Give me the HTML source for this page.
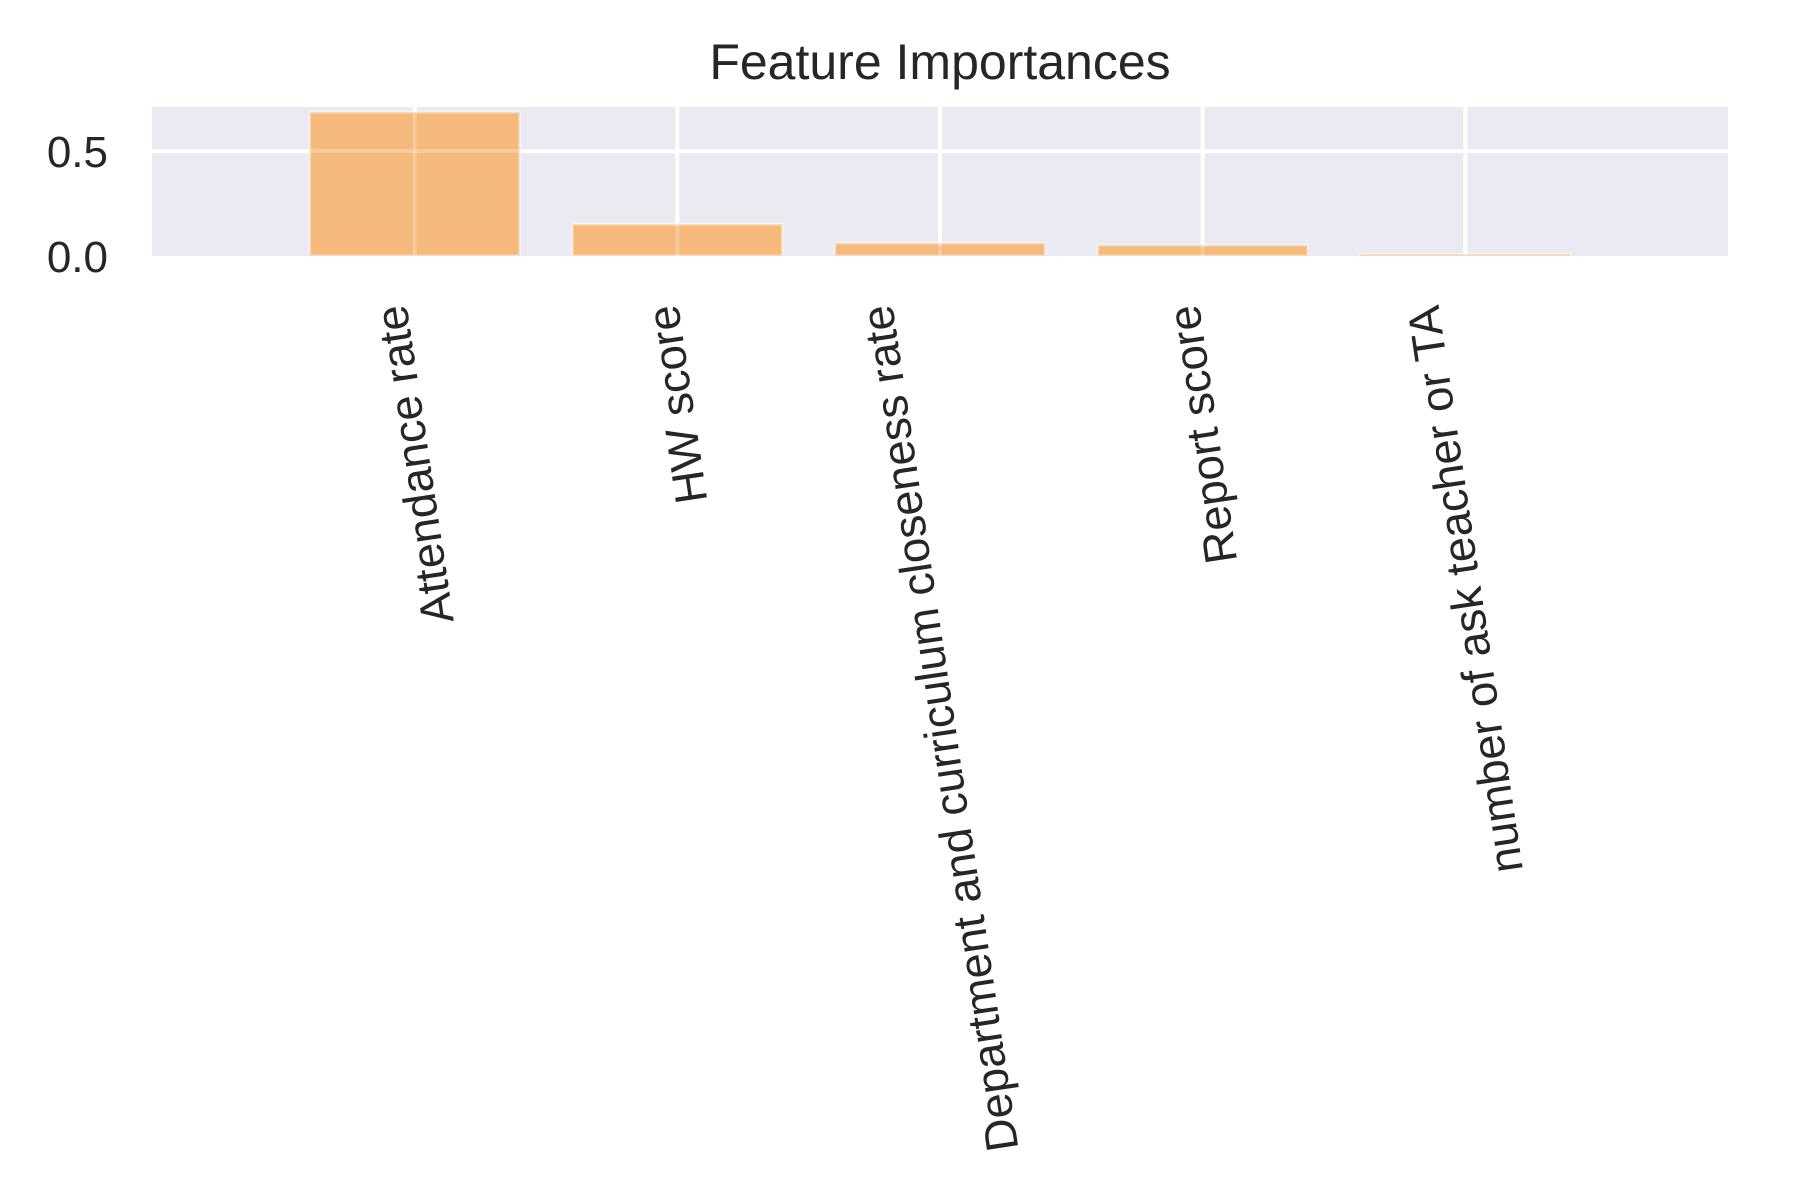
<!DOCTYPE html>
<html><head><meta charset="utf-8"><style>
html,body{margin:0;padding:0;background:#fff;}
svg{display:block;font-family:"Liberation Sans",Arial,sans-serif;}
</style></head><body>
<svg id="chart" width="1800" height="1200" viewBox="0 0 1800 1200">
<text x="940" y="79" font-size="50" fill="#262626" text-anchor="middle">Feature Importances</text>
<rect x="152" y="107" width="1576" height="149" fill="#eaeaf2"/>
<g id="grid"></g>
<g id="bars"></g>
<g id="gridover"></g>
<g id="yticks"></g>
<g id="xticks"></g>
</svg>
<script>
const categories = ["Attendance rate","HW score","Department and curriculum closeness rate","Report score","number of ask teacher or TA"];
const importances = [0.686, 0.152, 0.062, 0.052, 0.008];
const yTickValues = [0.0, 0.5];
const yTickLabels = ["0.0","0.5"];

const NS="http://www.w3.org/2000/svg";
const L=152,R=1728,T=107,B=256;
const xMin=-1,xMax=5,yMin=0,yMax=0.71;
function xs(v){return L+(v-xMin)/(xMax-xMin)*(R-L);}
function ys(v){return B-(v-yMin)/(yMax-yMin)*(B-T);}
function mk(tag,attrs,parent){const e=document.createElementNS(NS,tag);for(const k in attrs)e.setAttribute(k,attrs[k]);parent.appendChild(e);return e;}

const grid=document.getElementById('grid'),bars=document.getElementById('bars'),gover=document.getElementById('gridover');
const yt=document.getElementById('yticks'),xt=document.getElementById('xticks');

yTickValues.forEach((v,i)=>{
  if(v>yMin){
    const g=mk('line',{x1:L,x2:R,y1:ys(v),y2:ys(v),stroke:'#fff','stroke-width':4},grid);
    
    
    const o=mk('line',{x1:L,x2:R,y1:ys(v),y2:ys(v),stroke:'#fff','stroke-width':4,opacity:0.25},gover);
    
    
  }
  const t=mk('text',{x:108,y:ys(v)+16,'font-size':44,fill:'#262626','text-anchor':'end'},yt);
  t.textContent=yTickLabels[i];
  
  
});
categories.forEach((c,i)=>{
  const x=xs(i);
  const g=mk('line',{x1:x,x2:x,y1:T,y2:B,stroke:'#fff','stroke-width':4},grid);
  
  
  const o=mk('line',{x1:x,x2:x,y1:T,y2:B,stroke:'#fff','stroke-width':4,opacity:0.25},gover);
  
  
  const w=xs(0.4)-xs(0);
  const y=ys(importances[i]);
  const b=mk('rect',{x:x-w,y:y,width:2*w,height:B-y,fill:'#f4b97b',stroke:'rgba(255,255,255,0.45)','stroke-width':3},bars);
  
  
  const g2=mk('g',{},xt);
  const t=mk('text',{x:0,y:0,'font-size':45.5,fill:'#262626','text-anchor':'middle','transform':'rotate(-98.5)'},g2);
  t.textContent=c;
  
  
  const bb=g2.getBBox();
  const cx=bb.x+bb.width/2;
  g2.setAttribute('transform','translate('+(x-cx)+','+(302-bb.y)+')');
});
</script>
</body></html>
